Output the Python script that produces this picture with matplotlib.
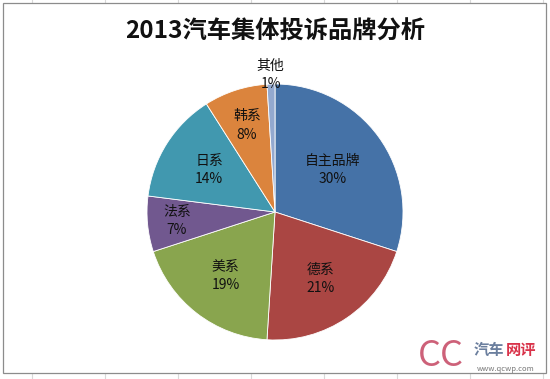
import numpy as np
import matplotlib
matplotlib.use('Agg')
import matplotlib.pyplot as plt
from matplotlib.patches import Rectangle

plt.rcParams['font.family'] = ['Noto Sans CJK SC', 'DejaVu Sans']

# data
title = '2013汽车集体投诉品牌分析'
brands = ['自主品牌', '德系', '美系', '法系', '日系', '韩系', '其他']
shares = [30, 21, 19, 7, 14, 8, 1]
colors = ['#4572A7', '#AA4643', '#89A54E', '#71588F', '#4198AF', '#DB843D', '#93A9CF']

# radial position of each label (fraction of radius), tuned to match the reference
label_r = [0.56, 0.63, 0.63, 0.77, 0.61, 0.71, 1.07]

W, H = 550, 379
fig = plt.figure(figsize=(W / 100, H / 100), dpi=100)
fig.patch.set_facecolor('white')

# faint spreadsheet grid behind the chart area
for gx in range(32, W, 73):
    fig.add_artist(plt.Line2D([gx / W, gx / W], [0, 1], color='#d9d9d9', lw=0.8, zorder=-3))
fig.add_artist(Rectangle((3 / W, 6 / H), 543 / W, 370 / H, facecolor='white',
                         edgecolor='#8c8c8c', lw=0.9, zorder=-2))

fig.text(0.5, 1 - 32 / H, title, ha='center', va='center', fontsize=17.5, fontweight='bold',
         color='#111111')

cx, cy, R = 275, H - 212, 128
ax = fig.add_axes([(cx - R) / W, (cy - R) / H, 2 * R / W, 2 * R / H])
ax.patch.set_alpha(0)
wedges, _ = ax.pie(shares, colors=colors, startangle=90, counterclock=False, radius=1,
                   wedgeprops=dict(edgecolor='white', linewidth=0.6))
ax.set_xlim(-1, 1)
ax.set_ylim(-1, 1)
ax.axis('off')

for w, name, val, r in zip(wedges, brands, shares, label_r):
    ang = np.deg2rad((w.theta1 + w.theta2) / 2)
    x, y = r * np.cos(ang), r * np.sin(ang)
    ax.text(x, y, f'{name}\n{val}%', ha='center', va='center', fontsize=10,
            color='#111111', linespacing=1.4, clip_on=False)

# watermark
fig.text(418 / W, 1 - 356 / H, 'CC', ha='left', va='center', fontsize=26,
         color='#c8506a', alpha=0.9)
fig.text(474 / W, 1 - 350 / H, '汽车', ha='left', va='center', fontsize=11,
         fontweight='bold', color='#6b7f9e')
fig.text(506 / W, 1 - 350 / H, '网评', ha='left', va='center', fontsize=11,
         fontweight='bold', color='#d9334a')
fig.text(477 / W, 1 - 369 / H, 'www.qcwp.com', ha='left', va='center', fontsize=5.5,
         color='#777777')

fig.savefig('out.png', dpi=100)
